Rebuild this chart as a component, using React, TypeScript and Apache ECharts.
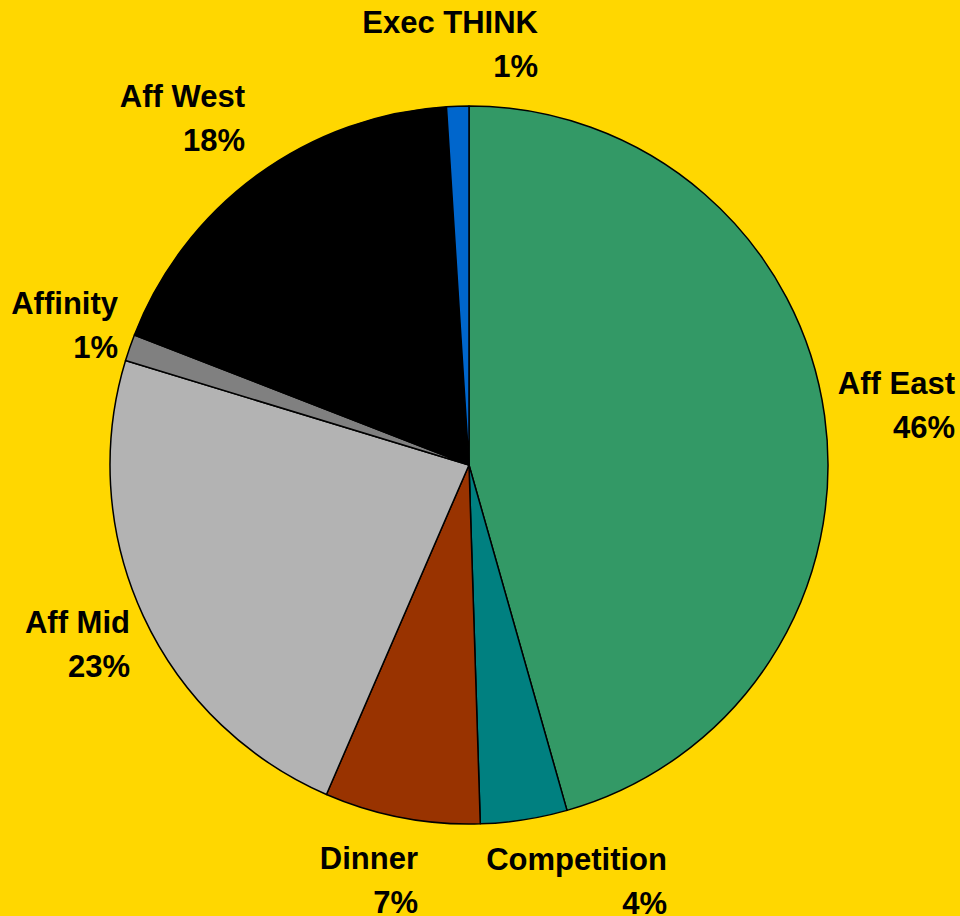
import React, { useEffect, useRef } from "react";
import * as echarts from "echarts";

const categories = ["Aff East", "Competition", "Dinner", "Aff Mid", "Affinity", "Aff West", "Exec THINK"];
const values = [45.6, 3.9, 7.0, 23.2, 1.2, 18.1, 1.0];
const colors = ["#339966", "#008080", "#993300", "#B3B3B3", "#808080", "#000000", "#0066CC"];
// label anchor (right edge, vertical middle) per category
const labelAnchors: Record<string, [number, number]> = {
  "Aff East": [955, 405],
  "Competition": [667, 881],
  "Dinner": [418, 880],
  "Aff Mid": [130, 644],
  "Affinity": [118, 325],
  "Aff West": [245, 118],
  "Exec THINK": [538, 44],
};

export default function App() {
  const ref = useRef<HTMLDivElement>(null);
  useEffect(() => {
    const chart = echarts.init(ref.current!, undefined, { renderer: "svg" });
    const total = values.reduce((a, b) => a + b, 0);
    chart.setOption({
      animation: false,
      backgroundColor: "#FFD700",
      series: [
        {
          type: "pie",
          center: [469, 465],
          radius: [0, 359],
          startAngle: 90,
          clockwise: true,
          data: categories.map((c, i) => ({
            name: c,
            value: values[i],
            itemStyle: { color: colors[i] },
          })),
          itemStyle: { borderColor: "#000000", borderWidth: 1.5 },
          label: {
            show: true,
            position: "outside",
            formatter: (p: any) => `${p.name}\n${Math.round((p.value / total) * 100)}%`,
            fontFamily: "Liberation Sans, Arial, sans-serif",
            fontWeight: "bold",
            fontSize: 31,
            lineHeight: 44,
            color: "#000000",
            align: "right",
            overflow: "none",
          },
          labelLine: { show: false },
          emphasis: { disabled: true },
          labelLayout: (params: any) => {
            const name = categories[params.dataIndex];
            const a = labelAnchors[name];
            return { x: a[0], y: a[1], align: "right", verticalAlign: "middle", width: 300 };
          },
        },
      ],
    });
    return () => chart.dispose();
  }, []);
  return <div ref={ref} style={{ position: "fixed", left: 0, top: 0, width: 960, height: 916 }} />;
}
